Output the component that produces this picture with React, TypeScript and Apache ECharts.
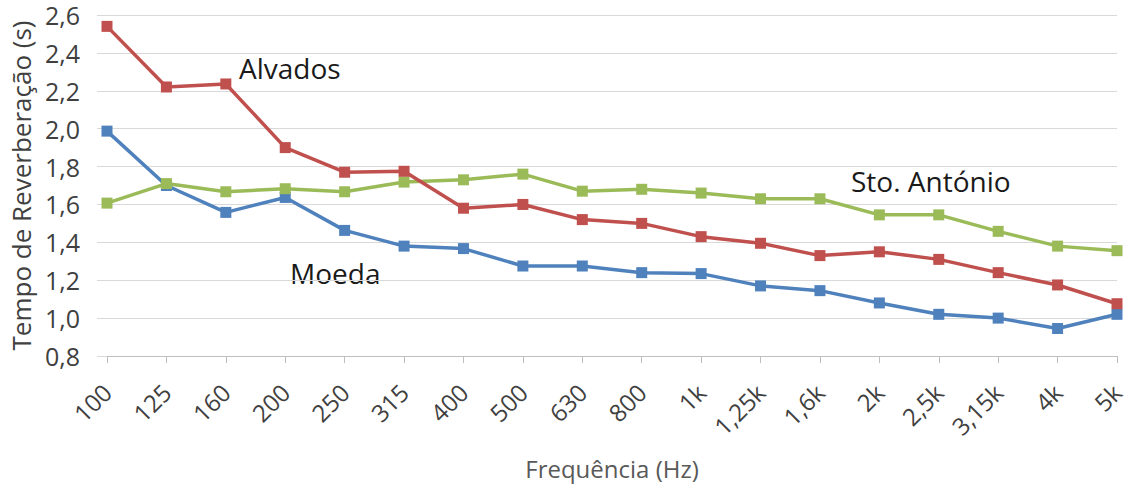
import React, { useEffect, useRef } from "react";
import * as echarts from "echarts";

const categories = ["100", "125", "160", "200", "250", "315", "400", "500", "630", "800", "1k", "1,25k", "1,6k", "2k", "2,5k", "3,15k", "4k", "5k"];
const alvados = [2.54, 2.22, 2.236, 1.9, 1.77, 1.775, 1.58, 1.6, 1.52, 1.5, 1.43, 1.395, 1.33, 1.35, 1.31, 1.24, 1.175, 1.076];
const stoAntonio = [1.607, 1.71, 1.667, 1.683, 1.667, 1.718, 1.73, 1.76, 1.67, 1.68, 1.66, 1.63, 1.63, 1.545, 1.545, 1.458, 1.38, 1.356];
const moeda = [1.987, 1.7, 1.558, 1.637, 1.463, 1.38, 1.367, 1.275, 1.275, 1.24, 1.235, 1.17, 1.145, 1.08, 1.02, 1.0, 0.945, 1.02];
const seriesNames = ["Alvados", "Sto. António", "Moeda"];
const colors = ["#c0504d", "#9bbb59", "#4f81bd"];

const FONT = "'Open Sans', Lato, sans-serif";

export default function App() {
  const ref = useRef<HTMLDivElement>(null);
  useEffect(() => {
    if (!ref.current) return;
    const chart = echarts.init(ref.current, undefined, { renderer: "svg" });
    const mk = (name: string, data: number[], color: string) => ({
      name,
      type: "line",
      data,
      symbol: "rect",
      symbolSize: 11,
      itemStyle: { color },
      lineStyle: { color, width: 3.5 },
    });
    chart.setOption({
      animation: false,
      textStyle: { fontFamily: FONT },
      grid: { left: 105, right: 13, top: 15, bottom: 127.5, containLabel: false },
      xAxis: {
        type: "category",
        data: categories,
        boundaryGap: false,
        axisLine: { lineStyle: { color: "#bfbfbf", width: 1 } },
        axisTick: { show: true, alignWithLabel: true, length: 7, lineStyle: { color: "#bfbfbf" } },
        axisLabel: { rotate: 45, fontSize: 24, color: "#404040", margin: 32, fontFamily: FONT, interval: 0 },
        name: "Frequência (Hz)",
        nameLocation: "middle",
        nameGap: 100,
        nameTextStyle: { fontSize: 24, color: "#595959", fontFamily: FONT },
      },
      yAxis: {
        type: "value",
        min: 0.8,
        max: 2.6,
        interval: 0.2,
        axisLine: { show: false },
        axisTick: { show: true, length: 10, lineStyle: { color: "#d9d9d9" } },
        splitLine: { lineStyle: { color: "#d9d9d9", width: 1 } },
        axisLabel: {
          fontSize: 25,
          lineHeight: 22,
          color: "#404040",
          margin: 27,
          fontFamily: FONT,
          formatter: (v: number) => v.toFixed(1).replace(".", ","),
        },
        name: "Tempo de Reverberação (s)",
        nameLocation: "middle",
        nameGap: 73,
        nameTextStyle: { fontSize: 26, color: "#404040", fontFamily: FONT },
      },
      graphic: [
        { type: "text", x: 239, y: 68, style: { text: seriesNames[0], fontSize: 28, fill: "#1a1a1a", fontFamily: FONT, verticalAlign: "middle" } },
        { type: "text", x: 851, y: 181, style: { text: seriesNames[1], fontSize: 28, fill: "#1a1a1a", fontFamily: FONT, verticalAlign: "middle" } },
        { type: "text", x: 290, y: 273, style: { text: seriesNames[2], fontSize: 28, fill: "#1a1a1a", fontFamily: FONT, verticalAlign: "middle" } },
      ],
      series: [
        mk(seriesNames[2], moeda, colors[2]),
        mk(seriesNames[1], stoAntonio, colors[1]),
        mk(seriesNames[0], alvados, colors[0]),
      ],
    });
    return () => chart.dispose();
  }, []);
  return <div ref={ref} style={{ position: "absolute", left: 0, top: 0, width: 1130, height: 485 }} />;
}
